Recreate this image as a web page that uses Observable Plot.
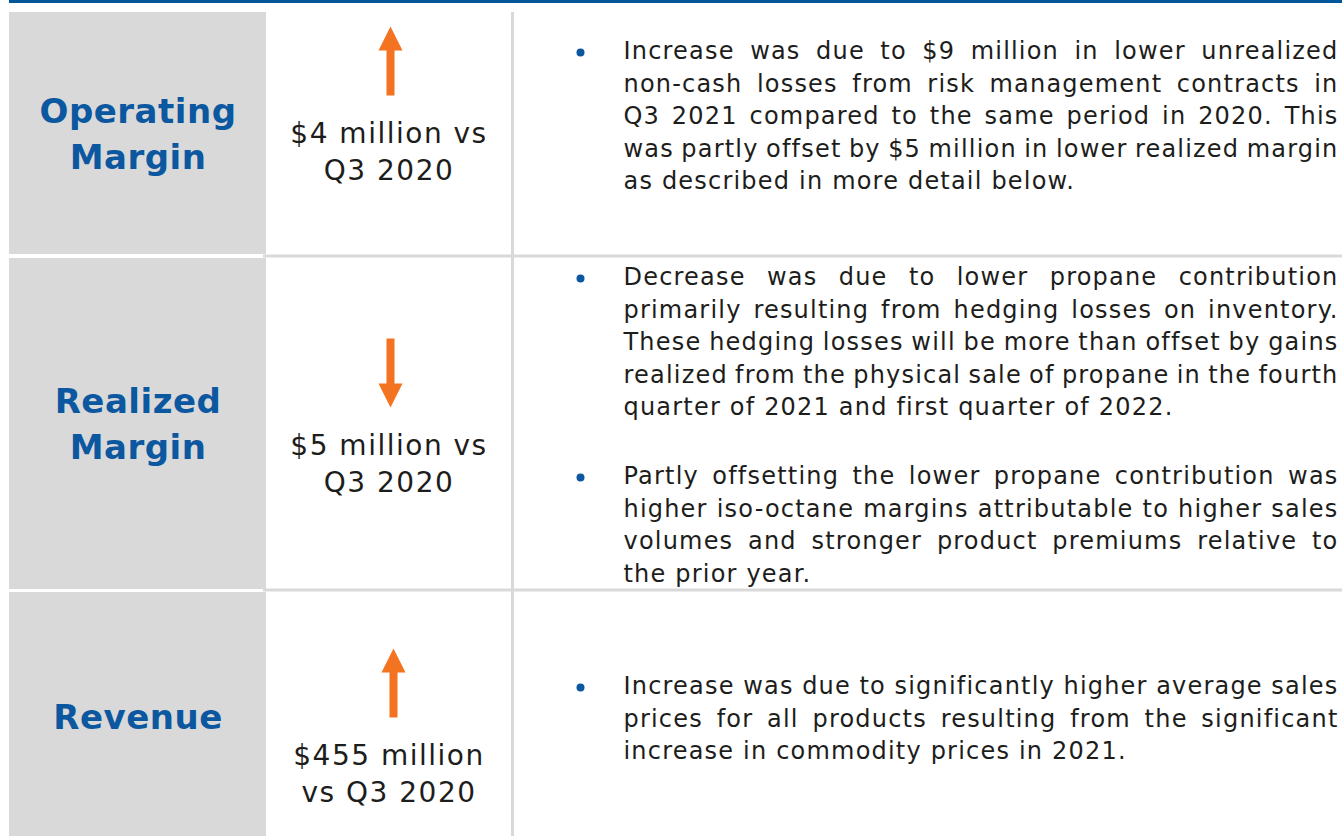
<!DOCTYPE html>
<html><head><meta charset="utf-8">
<script src="https://cdn.jsdelivr.net/npm/d3@7"></script>
<script src="https://cdn.jsdelivr.net/npm/@observablehq/plot@0.6"></script>
<style>
html,body{margin:0;padding:0;background:#fff;}
#chart svg{display:block;}
</style></head><body><div id="chart"></div>
<script>
// ---------- data ----------
const metrics = ["Operating\nMargin", "Realized\nMargin", "Revenue"];
const directions = ["up", "down", "up"];
const changes = ["$4 million vs\nQ3 2020", "$5 million vs\nQ3 2020", "$455 million\nvs Q3 2020"];
const operatingNotes = [[
  "Increase was due to $9 million in lower unrealized",
  "non-cash losses from risk management contracts in",
  "Q3 2021 compared to the same period in 2020. This",
  "was partly offset by $5 million in lower realized margin",
  "as described in more detail below."
]];
const realizedNotes = [[
  "Decrease was due to lower propane contribution",
  "primarily resulting from hedging losses on inventory.",
  "These hedging losses will be more than offset by gains",
  "realized from the physical sale of propane in the fourth",
  "quarter of 2021 and first quarter of 2022."
], [
  "Partly offsetting the lower propane contribution was",
  "higher iso-octane margins attributable to higher sales",
  "volumes and stronger product premiums relative to",
  "the prior year."
]];
const revenueNotes = [[
  "Increase was due to significantly higher average sales",
  "prices for all products resulting from the significant",
  "increase in commodity prices in 2021."
]];
const notes = [operatingNotes, realizedNotes, revenueNotes];

// ---------- layout ----------
const W = 1342, H = 836;
const headLeft = 9, headRight = 266;
const divLeft = 511, divRight = 514;
const bodyX = 623, bodyRight = 1338, bulletX = 580;
const rowTop = [12, 258, 592], rowBottom = [254, 589, 836];
const headingY = [131, 421, 714];
const arrowX = [390, 390, 393];
const arrowTop = [26, 338, 648];
const paraTop = [[51], [277, 476], [686]];
const lineStep = 32.5;

const BLUE = "#0b57a0", GRAY = "#d9d9d9", ORANGE = "#f47321", INK = "#1d1d1b";

const rows = metrics.map((m, i) => ({
  metric: m, dir: directions[i], change: changes[i],
  top: rowTop[i], bottom: rowBottom[i], hy: headingY[i],
  ax: arrowX[i], ay: arrowTop[i] + 34.5, cy: arrowTop[i] + 123
}));
const lineData = [], bullets = [];
notes.forEach((paras, r) => paras.forEach((lines, p) => {
  bullets.push({y: paraTop[r][p] + 1});
  lines.forEach((t, k) => lineData.push({text: t, y: paraTop[r][p] + k * lineStep, justify: k < lines.length - 1}));
}));
const separators = rowTop.slice(1).map(t => ({y1: t - 3.5, y2: t - 0.5}));

const arrowUp = {draw(ctx) {
  ctx.moveTo(0, -34.5); ctx.lineTo(12, -10.5); ctx.lineTo(4, -10.5); ctx.lineTo(4, 34.5);
  ctx.lineTo(-4, 34.5); ctx.lineTo(-4, -10.5); ctx.lineTo(-12, -10.5); ctx.closePath();
}};
const arrowDown = {draw(ctx) {
  ctx.moveTo(0, 34.5); ctx.lineTo(12, 10.5); ctx.lineTo(4, 10.5); ctx.lineTo(4, -34.5);
  ctx.lineTo(-4, -34.5); ctx.lineTo(-4, 10.5); ctx.lineTo(-12, 10.5); ctx.closePath();
}};

const svg = Plot.plot({
  width: W, height: H, margin: 0,
  x: {type: "linear", domain: [0, W], range: [0, W], axis: null},
  y: {type: "linear", domain: [0, H], range: [0, H], axis: null},
  style: {fontFamily: "'DejaVu Sans', sans-serif", background: "#fff", color: INK},
  marks: [
    Plot.rect([0], {x1: () => headLeft, x2: () => W, y1: () => 0, y2: () => 3, fill: "#00569b"}),
    Plot.rect(rows, {x1: () => headLeft, x2: () => headRight, y1: "top", y2: "bottom", fill: GRAY}),
    Plot.rect(separators, {x1: () => headRight - 3, x2: () => W, y1: "y1", y2: "y2", fill: GRAY}),
    Plot.rect([0], {x1: () => divLeft, x2: () => divRight, y1: () => rowTop[0], y2: () => H, fill: GRAY}),
    Plot.text(rows, {x: () => (headLeft + headRight) / 2, y: "hy", text: "metric",
      fontSize: 34, fontWeight: "bold", fill: BLUE, lineHeight: 46 / 34, lineAnchor: "middle"}),
    Plot.dot(rows.filter(d => d.dir === "up"), {x: "ax", y: "ay", symbol: arrowUp, fill: ORANGE, stroke: "none"}),
    Plot.dot(rows.filter(d => d.dir === "down"), {x: "ax", y: "ay", symbol: arrowDown, fill: ORANGE, stroke: "none"}),
    Plot.text(rows, {x: () => (headRight + divLeft) / 2, y: "cy", text: "change",
      fontSize: 28, fill: INK, lineHeight: 37 / 28, lineAnchor: "middle"}),
    Plot.dot(bullets, {x: () => bulletX, y: "y", r: 4, fill: BLUE, stroke: "none"}),
    Plot.text(lineData, {x: () => bodyX, y: "y", text: "text",
      fontSize: 24, fill: INK, textAnchor: "start", lineAnchor: "middle"})
  ]
});
document.getElementById("chart").append(svg);

// text marks in order: metric, change, explanation
const textGroups = svg.querySelectorAll('g[aria-label="text"]');
const spacing = [0.5, 1.5, 1.2];
textGroups.forEach((g, gi) => g.style.letterSpacing = spacing[gi] + "px");

// justify all but the last line of each paragraph
textGroups[2].querySelectorAll("text").forEach((el, i) => {
  const d = lineData[i];
  if (!d || !d.justify) return;
  const spaces = (d.text.match(/ /g) || []).length;
  const len = el.getComputedTextLength();
  el.setAttribute("word-spacing", ((bodyRight - bodyX - len) / spaces) + "px");
  el.style.wordSpacing = ((bodyRight - bodyX - len) / spaces) + "px";
});
</script></body></html>
